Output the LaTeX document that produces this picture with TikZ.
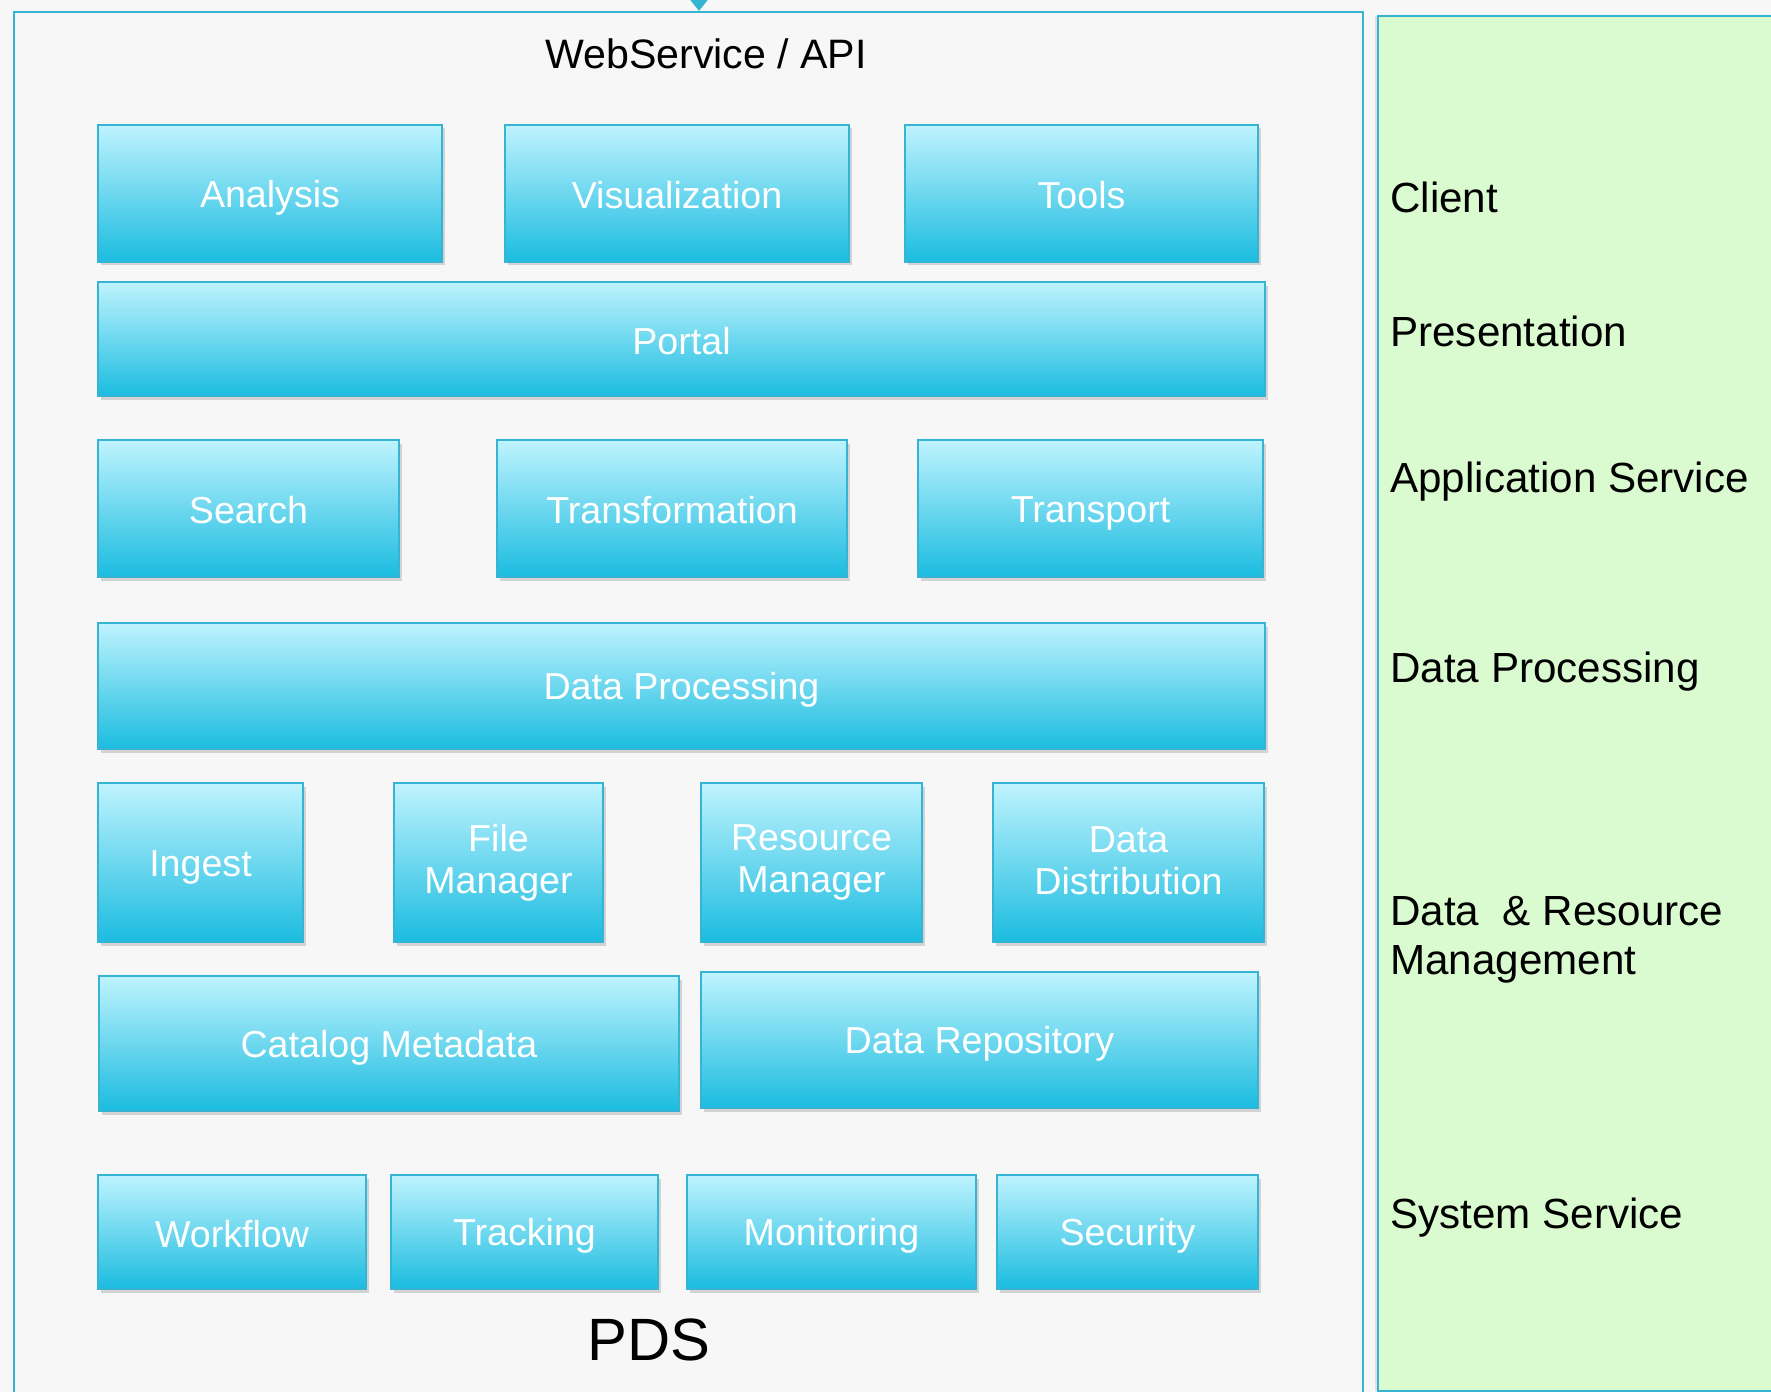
\documentclass[tikz,border=0pt]{standalone}
\usepackage{fontspec}
\setmainfont{Liberation Sans}
\usetikzlibrary{shadows,arrows.meta}
\definecolor{framecyan}{HTML}{35B5D3}
\definecolor{boxtop}{HTML}{BFF3FE}
\definecolor{boxbot}{HTML}{1BBCE0}
\definecolor{layergreen}{HTML}{DAFBD0}
\definecolor{pagegrey}{HTML}{F7F7F7}
\tikzset{
	boxshadow/.style={drop shadow={shadow xshift=0.05cm,shadow yshift=-0.07cm,opacity=0.3}},
	boxsize/.style 2 args={minimum width=#1*0.02cm,minimum height=#2*0.02cm}
}
\begin{document}
\begin{tikzpicture}
		[x=0.02cm,y=-0.02cm,
		box/.style={rectangle,draw=framecyan,line width=0.6pt,top color=boxtop,bottom color=boxbot,
			text=white,align=center,font=\fontsize{21.4}{24}\selectfont,inner sep=0pt,boxshadow,
			execute at begin node={\rule{0pt}{20pt}},execute at end node={\rule[-2.4pt]{0pt}{0pt}}},
		layer/.style={anchor=west,align=left,inner sep=0pt,font=\fontsize{24}{28}\selectfont},
		frame/.style={draw=framecyan,line width=1.2pt,inner sep=0pt}
		]
		\useasboundingbox[fill=pagegrey] (0,0) rectangle (1771,1392);

		% outer frame and layer panel
		\node[frame,boxsize={1349}{1408}] (pds) at (688.5,716) {};
		\node[frame,fill=layergreen,boxsize={412}{1375},
			drop shadow={shadow xshift=-0.06cm,shadow yshift=0cm,opacity=0.2}] (layers) at (1584,703.5) {};
		\coordinate (apiin) at (699,-40);
		\draw[-{Triangle[width=0.5cm,length=0.32cm]},framecyan,line width=1pt] (apiin) -- (apiin |- pds.north);

		\node[font=\fontsize{23.4}{27}\selectfont] (api) at (706,54) {WebService / API};
		\node[font=\fontsize{34}{40}\selectfont] (pdsname) at (649,1340) {PDS};

		% client
		\node[box,boxsize={344}{137}] (analysis) at (270,193.5) {Analysis};
		\node[box,boxsize={344}{137}] (visual) at (677,193.5) {Visualization};
		\node[box,boxsize={353}{137}] (tools) at (1081.5,193.5) {Tools};
		% presentation
		\node[box,boxsize={1167}{114}] (portal) at (681.5,339) {Portal};
		% application service
		\node[box,boxsize={301}{137}] (search) at (248.5,508.5) {Search};
		\node[box,boxsize={350}{137}] (transform) at (672,508.5) {Transformation};
		\node[box,boxsize={345}{137}] (transport) at (1090.5,508.5) {Transport};
		% data processing
		\node[box,boxsize={1167}{126}] (dataproc) at (681.5,686) {Data Processing};
		% data and resource management
		\node[box,boxsize={205}{159}] (ingest) at (200.5,862.5) {Ingest};
		\node[box,boxsize={209}{159}] (filemgr) at (498.5,862.5) {File\\Manager};
		\node[box,boxsize={221}{159}] (resmgr) at (811.5,862.5) {Resource\\Manager};
		\node[box,boxsize={271}{159}] (datadist) at (1128.5,862.5) {Data\\Distribution};
		\node[box,boxsize={580}{135}] (catalog) at (389,1043.5) {Catalog Metadata};
		\node[box,boxsize={557}{136}] (datarepo) at (979.5,1040) {Data Repository};
		% system service
		\node[box,boxsize={268}{114}] (workflow) at (232,1232) {Workflow};
		\node[box,boxsize={267}{114}] (tracking) at (524.5,1232) {Tracking};
		\node[box,boxsize={289}{114}] (monitor) at (831.5,1232) {Monitoring};
		\node[box,boxsize={261}{114}] (security) at (1127.5,1232) {Security};

\node[layer] (client) at (1390,197) {Client};
\node[layer] (present) at (1390,331) {Presentation};
\node[layer] (appserv) at (1390,482) {Application Service};
\node[layer] (dataprocl) at (1390,672) {Data Processing};
\node[layer] (datares) at (1390,940) {Data\ \ \& Resource\\Management};
\node[layer] (sysserv) at (1390,1218) {System Service};
	\end{tikzpicture}
\end{document}
